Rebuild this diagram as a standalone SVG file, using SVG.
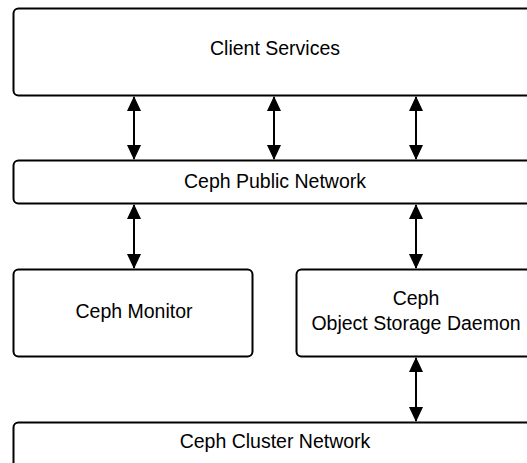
<svg xmlns="http://www.w3.org/2000/svg" width="527" height="463" viewBox="0 0 527 463">
<style>
.box{fill:#fff;stroke:#000;stroke-width:2}
.lbl{font-family:"Liberation Sans",Arial,sans-serif;font-size:19.5px;fill:#000;text-anchor:middle}
.conn{stroke:#000;stroke-width:2;fill:none;marker-start:url(#ah);marker-end:url(#ah)}
</style>
<defs>
<marker id="ah" viewBox="0 0 15 14" refX="14" refY="7" markerWidth="15" markerHeight="14" markerUnits="userSpaceOnUse" orient="auto-start-reverse">
<path d="M0,0 L15,7 L0,14 z" fill="#000"/>
</marker>
</defs>
<rect width="527" height="463" fill="#fff"/>
<g id="client-services">
<rect class="box" x="13.5" y="8.5" width="524" height="87" rx="5"/>
<text class="lbl" x="275" y="55">Client Services</text>
</g>
<g id="public-network">
<rect class="box" x="13.5" y="160.5" width="524" height="43" rx="5"/>
<text class="lbl" x="275" y="188">Ceph Public Network</text>
</g>
<g id="ceph-monitor">
<rect class="box" x="13.5" y="269.5" width="239" height="87" rx="5"/>
<text class="lbl" x="134" y="318">Ceph Monitor</text>
</g>
<g id="ceph-osd">
<rect class="box" x="296.5" y="269.5" width="240" height="87" rx="5"/>
<text class="lbl" x="416" y="305">Ceph</text>
<text class="lbl" x="416" y="330">Object Storage Daemon</text>
</g>
<g id="cluster-network">
<rect class="box" x="13.5" y="422.5" width="524" height="50" rx="5"/>
<text class="lbl" x="275" y="448">Ceph Cluster Network</text>
</g>
<g id="connectors">
<line class="conn" x1="134" y1="97" x2="134" y2="159"/>
<line class="conn" x1="274" y1="97" x2="274" y2="159"/>
<line class="conn" x1="416" y1="97" x2="416" y2="159"/>
<line class="conn" x1="134" y1="205" x2="134" y2="268"/>
<line class="conn" x1="416" y1="205" x2="416" y2="268"/>
<line class="conn" x1="416" y1="358" x2="416" y2="421"/>
</g>
</svg>
